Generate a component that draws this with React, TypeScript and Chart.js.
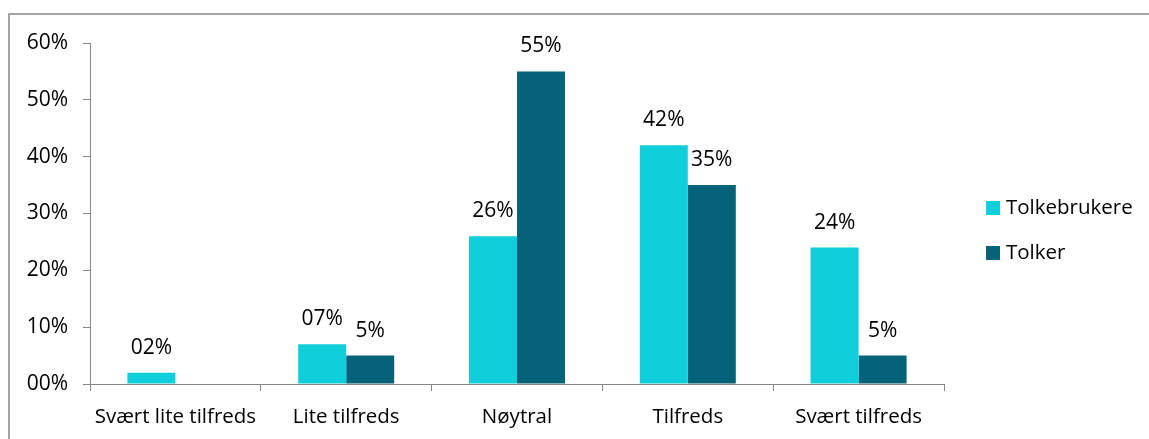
import React, { useEffect, useRef } from "react";
import { Chart, registerables } from "chart.js";

Chart.register(...registerables);

const categories = ["Svært lite tilfreds", "Lite tilfreds", "Nøytral", "Tilfreds", "Svært tilfreds"];
const seriesNames = ["Tolkebrukere", "Tolker"];
const tolkebrukere = [2, 7, 26, 42, 24];
const tolker = [0, 5, 55, 35, 5];
const tolkebrukereLabels = ["02%", "07%", "26%", "42%", "24%"];
const tolkerLabels = ["", "5%", "55%", "35%", "5%"];
const yTicks = [0, 10, 20, 30, 40, 50, 60];

const FONT = "'Open Sans', sans-serif";
const COLORS = ["#10CFDA", "#056279"];
const AXIS = "#878787";

export default function App() {
  const ref = useRef<HTMLCanvasElement | null>(null);

  useEffect(() => {
    if (!ref.current) return;
    const allLabels = [tolkebrukereLabels, tolkerLabels];

    const valueLabels = {
      id: "valueLabels",
      afterDatasetsDraw(chart: any) {
        const ctx = chart.ctx;
        ctx.save();
        ctx.font = `21px ${FONT}`;
        ctx.fillStyle = "#000";
        ctx.textAlign = "center";
        ctx.textBaseline = "middle";
        chart.data.datasets.forEach((ds: any, di: number) => {
          const meta = chart.getDatasetMeta(di);
          meta.data.forEach((bar: any, i: number) => {
            const t = allLabels[di][i];
            if (!t) return;
            ctx.fillText(t, bar.x, bar.y - 25);
          });
        });
        ctx.restore();
      },
    };

    const sideLegend = {
      id: "sideLegend",
      afterDraw(chart: any) {
        const ctx = chart.ctx;
        ctx.save();
        ctx.font = `20.5px ${FONT}`;
        ctx.textBaseline = "middle";
        ctx.textAlign = "left";
        chart.data.datasets.forEach((ds: any, i: number) => {
          const cy = 208 + i * 45;
          ctx.fillStyle = ds.backgroundColor;
          ctx.fillRect(986, cy - 7, 14, 14);
          ctx.fillStyle = "#000";
          ctx.fillText(ds.label, 1006, cy);
        });
        ctx.restore();
      },
    };

    const chart = new Chart(ref.current, {
      type: "bar",
      data: {
        labels: categories,
        datasets: [
          { label: seriesNames[0], data: tolkebrukere, backgroundColor: COLORS[0] },
          { label: seriesNames[1], data: tolker, backgroundColor: COLORS[1] },
        ],
      },
      options: {
        animation: false,
        responsive: false,
        maintainAspectRatio: false,
        layout: { padding: { left: 0, right: 205, top: 43, bottom: 0 } },
        plugins: { legend: { display: false }, tooltip: { enabled: false } },
        datasets: { bar: { categoryPercentage: 0.562, barPercentage: 1 } },
        scales: {
          x: {
            grid: { drawOnChartArea: false, drawTicks: true, tickLength: 7, color: AXIS, offset: true },
            border: { display: true, color: AXIS, width: 1 },
            ticks: { color: "#000", font: { family: FONT, size: 20.5 }, padding: 14, maxRotation: 0 },
            afterFit: (s: any) => { s.height = 55; },
          },
          y: {
            min: 0,
            max: 60,
            afterBuildTicks: (s: any) => { s.ticks = yTicks.map((v) => ({ value: v })); },
            grid: { drawOnChartArea: false, drawTicks: true, tickLength: 7, color: AXIS },
            border: { display: true, color: AXIS, width: 1 },
            ticks: {
              color: "#000",
              font: { family: FONT, size: 21 },
              padding: 15,
              callback: (v: any) => String(v).padStart(2, "0") + "%",
            },
            afterFit: (s: any) => { s.width = 90; },
          },
        },
      },
      plugins: [valueLabels, sideLegend],
    });
    return () => chart.destroy();
  }, []);

  return (
    <>
      <div
        style={{
          position: "absolute",
          left: 8,
          top: 13,
          width: 1200,
          height: 500,
          border: "2px solid #a6a6a6",
          boxSizing: "border-box",
        }}
      />
      <div style={{ position: "absolute", left: 0, top: 0, width: 1149, height: 439 }}>
        <canvas ref={ref} width={1149} height={439} style={{ width: 1149, height: 439, display: "block" }} />
      </div>
    </>
  );
}
